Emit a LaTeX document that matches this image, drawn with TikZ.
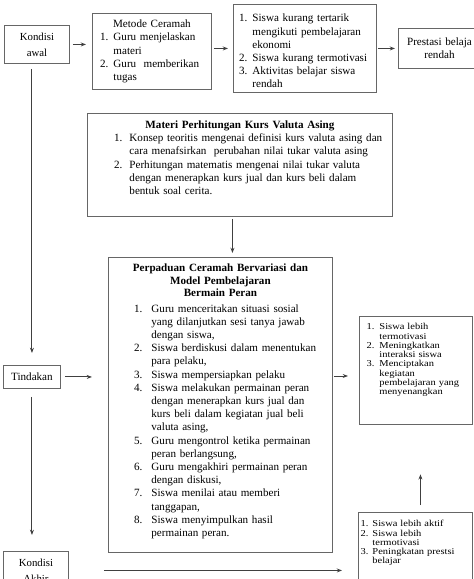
\documentclass[tikz,border=0pt]{standalone}
\usepackage{fontspec}
\setmainfont{Liberation Serif}
\newfontfamily\widefont[FakeStretch=1.15]{Liberation Serif}
\usepackage{enumitem}
\usetikzlibrary{positioning}
\usetikzlibrary{arrows.meta}
\usetikzlibrary{calc}

\setlist[enumerate]{nosep,label=\arabic*.}
\newcommand{\topgap}[1]{\rule{0pt}{#1}}
\newcommand{\bottomgap}[1]{\rule[-#1]{0pt}{#1}}

\begin{document}
\begin{tikzpicture}[
  x=1pt, y=-1pt,
  box/.style  = {draw=black!60, line width=0.9pt, anchor=north west, align=left, inner xsep=4pt, inner ysep=2pt},
  line/.style = {black!75, line width=1pt},
  small/.style = {font=\widefont\fontsize{9.1}{9.3}\selectfont},
  >={Stealth[scale=0.7]},
  font=\fontsize{11.1}{13.2}\selectfont
]
  \clip (0,0) rectangle (474,579);

  % top row
  \node[box, align=center, minimum width=65pt, minimum height=38pt, text width=57pt,
        font=\fontsize{10.8}{16}\selectfont] (awal) at (4,25) {Kondisi\\awal};

  \node[box, minimum width=119pt, minimum height=76pt, text width=111pt] (metode) at (92,13) {%
    {\centering Metode Ceramah\par}
    \begin{enumerate}[leftmargin=17pt,labelsep=5pt]
      \item Guru menjelaskan\newline materi
      \item Guru \ memberikan\newline tugas
    \end{enumerate}};

  \node[box, minimum width=143pt, minimum height=88pt, text width=135pt] (kurang) at (233,4) {%
    \begin{enumerate}[leftmargin=15pt,labelsep=5pt]
      \item Siswa kurang tertarik\newline mengikuti pembelajaran\newline ekonomi
      \item Siswa kurang termotivasi
      \item Aktivitas belajar siswa\newline rendah
    \end{enumerate}};

  \node[box, align=center, minimum width=82pt, minimum height=40pt, text width=74pt] (prestasi) at (398,28)
    {Prestasi belaja\\rendah};

  % materi
  \node[box, minimum width=305pt, text width=297pt] (materi) at (87,113) {%
    {\centering\bfseries\topgap{13pt}Materi Perhitungan Kurs Valuta Asing\par}
    \begin{enumerate}[leftmargin=38pt,labelsep=7pt]
      \item Konsep teoritis mengenai definisi kurs valuta asing dan\newline cara menafsirkan \ perubahan nilai tukar valuta asing
      \item Perhitungan matematis mengenai nilai tukar valuta\newline dengan menerapkan kurs jual dan kurs beli dalam\newline bentuk soal cerita.\bottomgap{20pt}
    \end{enumerate}};

  \node[box, minimum width=224pt, text width=216pt] (perpaduan) at (108,257) {%
    {\centering\bfseries\fontsize{11.1}{12.7}\selectfont\topgap{12pt}Perpaduan Ceramah Bervariasi dan\\Model Pembelajaran\\Bermain Peran\par}
    \vspace{2pt}
    \begin{enumerate}[leftmargin=39pt,labelsep=9pt]
      \item Guru menceritakan situasi sosial\newline yang dilanjutkan sesi tanya jawab\newline dengan siswa,
      \item Siswa berdiskusi dalam menentukan\newline para pelaku,
      \item Siswa mempersiapkan pelaku
      \item Siswa melakukan permainan peran\newline dengan menerapkan kurs jual dan\newline kurs beli dalam kegiatan jual beli\newline valuta asing,
      \item Guru mengontrol ketika permainan\newline peran berlangsung,
      \item Guru mengakhiri permainan peran\newline dengan diskusi,
      \item Siswa menilai atau memberi\newline tanggapan,
      \item Siswa menyimpulkan hasil\newline permainan peran.\bottomgap{14pt}
    \end{enumerate}};

  % left column
  \node[box, align=center, minimum width=57pt, minimum height=23pt, text width=49pt] (tindakan) at (3,365) {Tindakan};

  \node[box, align=center, minimum width=65pt, minimum height=38pt, text width=57pt,
        font=\fontsize{10.8}{16}\selectfont] (akhir) at (3,551) {Kondisi\\Akhir};

  % right column
  \node[box, small, minimum width=113pt, text width=105pt, inner ysep=4pt] (hasila) at (359,316) {%
    \begin{enumerate}[leftmargin=16pt,labelsep=5pt]
      \item Siswa lebih\newline termotivasi
      \item Meningkatkan\newline interaksi siswa
      \item Menciptakan\newline kegiatan\newline pembelajaran yang\newline menyenangkan\bottomgap{26pt}
    \end{enumerate}};

  \node[box, small, minimum width=114pt, text width=106pt, inner ysep=5pt] (hasilb) at (358,512) {%
    \begin{enumerate}[leftmargin=10pt,labelsep=4pt]
      \item Siswa lebih aktif
      \item Siswa lebih\newline termotivasi
      \item Peningkatan prestsi\newline belajar\bottomgap{22pt}
    \end{enumerate}};

  \coordinate (hasilain) at ($(hasila.north west)+(0,60)$);

  % arrows
  \draw[line,->,shorten <=3pt,shorten >=6pt] (awal.east) -- (awal.east -| metode.west);
  \draw[line,->,shorten <=2pt,shorten >=5pt] (metode.east |- kurang.west) -- (kurang.west);
  \draw[line,->,shorten <=1pt,shorten >=3pt] (kurang.east |- prestasi.west) -- (prestasi.west);
  \draw[line,->,shorten <=5pt,shorten >=12pt] (awal.south -| tindakan.north) -- (tindakan.north);
  \draw[line,->,shorten <=8pt,shorten >=16pt] (tindakan.south) -- (tindakan.south |- akhir.north);
  \draw[line,->,shorten <=4pt,shorten >=16pt] (tindakan.east) -- (tindakan.east -| perpaduan.west);
  \draw[line,->,shorten <=2pt,shorten >=4pt] ([xshift=-7.5pt]materi.south) -- ([xshift=-7.5pt]materi.south |- perpaduan.north);
  \draw[line,->,shorten <=1pt,shorten >=11pt] (hasilain -| perpaduan.east) -- (hasilain);
  \draw[line,->,shorten <=7pt,shorten >=49pt] ([xshift=5pt]hasilb.north) -- ([xshift=5pt]hasilb.north |- hasila.south);
  \draw[line,->,shorten <=35pt,shorten >=16pt] (akhir.east) -- (akhir.east -| hasilb.west);

\end{tikzpicture}
\end{document}
